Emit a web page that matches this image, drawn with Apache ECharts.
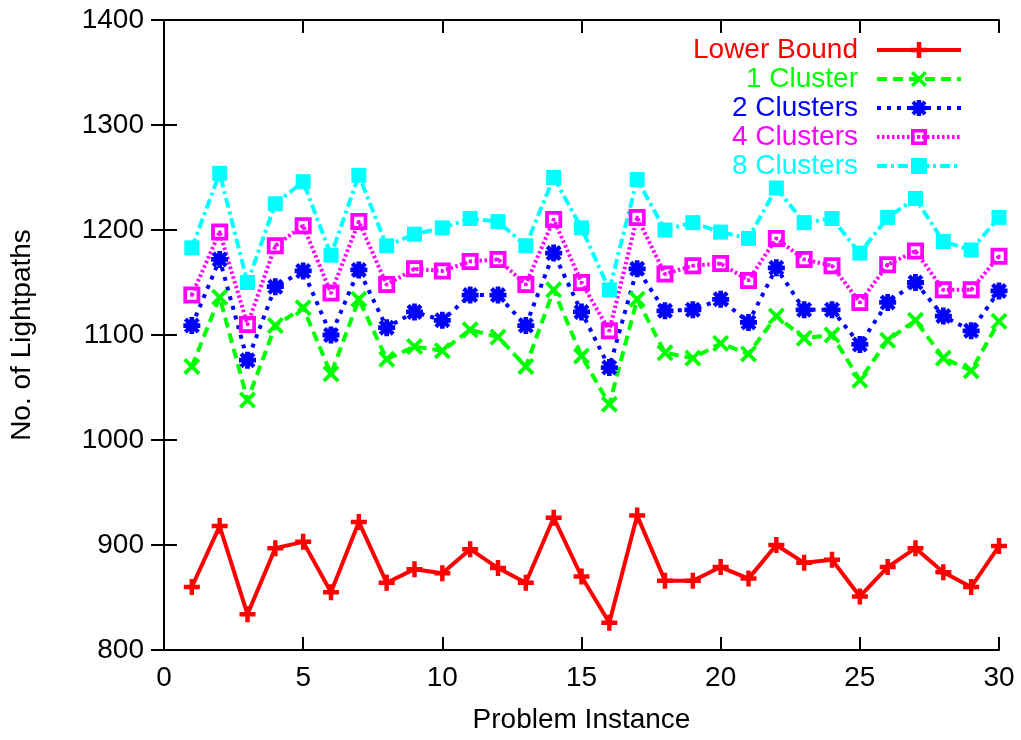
<!DOCTYPE html>
<html>
<head>
<meta charset="utf-8">
<script src="https://cdn.jsdelivr.net/npm/echarts@6/dist/echarts.min.js"></script>
<style>
  html, body { margin: 0; padding: 0; background: #fff; }
  #chart { width: 1021px; height: 740px; }
</style>
</head>
<body>
<div id="chart"></div>
<script>
// Problem instances 1..30
const instances = [1,2,3,4,5,6,7,8,9,10,11,12,13,14,15,16,17,18,19,20,21,22,23,24,25,26,27,28,29,30];

// Number of lightpaths per instance
const lowerBound = [860,918,834,897,903,855,922,864,877,873,896,878,864,926,870,826,928,866,866,879,868,900,883,886,851,879,897,874,860,899];
const cluster1   = [1070,1136,1038,1109,1126,1063,1134,1077,1089,1085,1105,1098,1070,1143,1080,1034,1134,1083,1078,1092,1082,1118,1097,1100,1057,1095,1114,1078,1066,1113];
const cluster2   = [1109,1172,1076,1146,1161,1100,1162,1107,1122,1114,1138,1138,1109,1178,1122,1069,1163,1123,1124,1134,1112,1164,1124,1124,1091,1131,1150,1118,1104,1142];
const cluster4   = [1138,1198,1110,1185,1204,1140,1208,1148,1163,1161,1170,1172,1148,1210,1150,1104,1212,1158,1166,1168,1152,1192,1172,1166,1131,1167,1180,1143,1143,1175];
const cluster8   = [1183,1254,1150,1225,1246,1176,1252,1185,1196,1202,1211,1208,1185,1250,1202,1143,1248,1200,1207,1198,1192,1240,1207,1211,1178,1212,1230,1189,1181,1212];

const seriesNames = ['Lower Bound', '1 Cluster', '2 Clusters', '4 Clusters', '8 Clusters'];
const yTicks = { min: 800, max: 1400, step: 100 };
const xTicks = { min: 0, max: 30, step: 5 };

// Point marker shapes
const PLUS  = 'path://M3.6,0H6.4V3.6H10V6.4H6.4V10H3.6V6.4H0V3.6H3.6Z';
const CROSS = 'path://M0,1.6L1.6,0L5,3.4L8.4,0L10,1.6L6.6,5L10,8.4L8.4,10L5,6.6L1.6,10L0,8.4L3.4,5Z';
const STAR  = 'path://M3.6,0H6.4V3.6H10V6.4H6.4V10H3.6V6.4H0V3.6H3.6Z M0.3,2.1L2.1,0.3L5,3.2L7.9,0.3L9.7,2.1L6.8,5L9.7,7.9L7.9,9.7L5,6.8L2.1,9.7L0.3,7.9L3.2,5Z';
const BOX   = 'path://M0,0H10V10H0Z M2.2,2.2V7.8H7.8V2.2Z M4.1,4.1H5.9V5.9H4.1Z';
const FBOX  = 'path://M0,0H10V10H0Z';

const FONT = 'Liberation Sans, Arial, Helvetica, sans-serif';

function pairs(vals) {
  return instances.map((x, i) => [x, vals[i]]);
}

const defs = [
  { name: seriesNames[0], data: lowerBound, color: '#ff0000', type: 'solid',      symbol: PLUS,  size: 16 },
  { name: seriesNames[1], data: cluster1,   color: '#00ff00', type: [10, 6],      symbol: CROSS, size: 17 },
  { name: seriesNames[2], data: cluster2,   color: '#0000ff', type: [4, 6],       symbol: STAR,  size: 17 },
  { name: seriesNames[3], data: cluster4,   color: '#ff00ff', type: [2.5, 2.5],   symbol: BOX,   size: 17 },
  { name: seriesNames[4], data: cluster8,   color: '#00ffff', type: [10, 4, 3, 4], symbol: FBOX, size: 15 }
];

const series = defs.map(d => ({
  name: d.name,
  type: 'line',
  data: pairs(d.data),
  symbol: d.symbol,
  symbolSize: d.size,
  showSymbol: true,
  animation: false,
  lineStyle: { color: d.color, width: 4, type: d.type },
  itemStyle: { color: d.color, borderWidth: 0 },
  emphasis: { disabled: true }
}));

// One legend block per series: text right-aligned, sample on the right
const legends = defs.map((d, i) => ({
  data: [d.name],
  right: 53,
  top: 31 + i * 29,
  align: 'right',
  orient: 'vertical',
  itemWidth: 84,
  itemHeight: 20,
  selectedMode: false,
  lineStyle: { width: 4, color: d.color, type: d.type },
  textStyle: { color: d.color, fontSize: 28, fontFamily: FONT, padding: [0, 14, 0, 0] }
}));

const axisCommon = {
  axisLine: { show: true, lineStyle: { color: '#000', width: 2 } },
  axisTick: { show: true, inside: true, length: 13, lineStyle: { color: '#000', width: 2 } },
  splitLine: { show: false }
};

const option = {
  backgroundColor: '#fff',
  animation: false,
  grid: { left: 162, right: 22, top: 20, bottom: 90, containLabel: false },
  legend: legends,
  xAxis: [
    Object.assign({
      type: 'value', position: 'bottom',
      min: xTicks.min, max: xTicks.max, interval: xTicks.step,
      name: 'Problem Instance', nameLocation: 'middle', nameGap: 56,
      nameTextStyle: { fontSize: 28, fontFamily: FONT, color: '#000' },
      axisLabel: { fontSize: 28, fontFamily: FONT, color: '#000', margin: 14 }
    }, axisCommon),
    Object.assign({
      type: 'value', position: 'top',
      min: xTicks.min, max: xTicks.max, interval: xTicks.step,
      axisLabel: { show: false }
    }, axisCommon)
  ],
  yAxis: [
    Object.assign({
      type: 'value', position: 'left',
      min: yTicks.min, max: yTicks.max, interval: yTicks.step,
      name: 'No. of Lightpaths', nameLocation: 'middle', nameGap: 128,
      nameTextStyle: { fontSize: 28, fontFamily: FONT, color: '#000' },
      axisLabel: { fontSize: 28, fontFamily: FONT, color: '#000', margin: 20, formatter: v => String(v) }
    }, axisCommon),
    Object.assign({
      type: 'value', position: 'right',
      min: yTicks.min, max: yTicks.max, interval: yTicks.step,
      axisLabel: { show: false }
    }, axisCommon)
  ],
  series: series
};

const chart = echarts.init(document.getElementById('chart'), null, { renderer: 'canvas' });
chart.setOption(option);
</script>
</body>
</html>
